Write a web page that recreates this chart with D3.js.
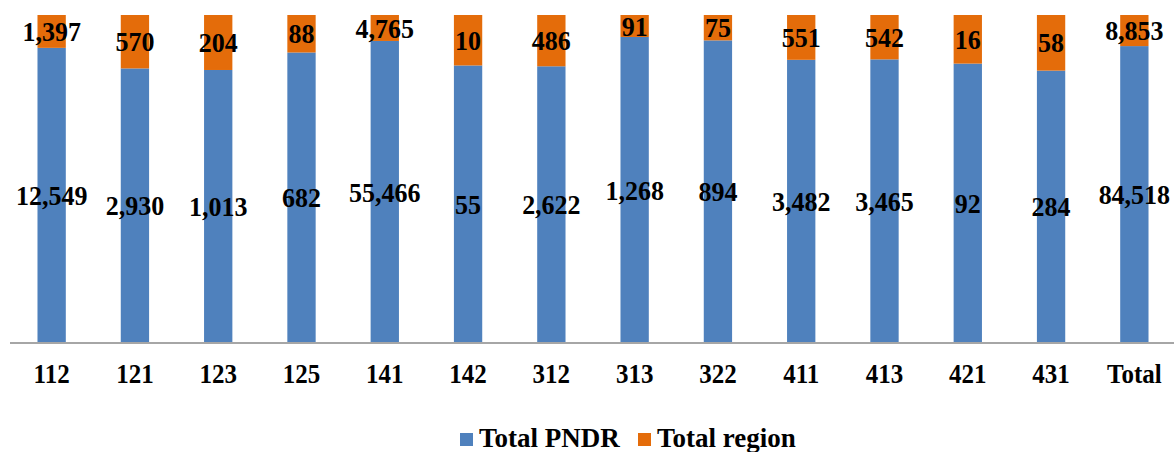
<!DOCTYPE html>
<html><head><meta charset="utf-8">
<script src="https://cdn.jsdelivr.net/npm/d3@7"></script>
<style>body{margin:0;background:#fff}svg{display:block}</style>
</head><body><svg id="c" width="1174" height="452"></svg>
<script>
const categories = ["112","121","123","125","141","142","312","313","322","411","413","421","431","Total"];
const pndr = [12549,2930,1013,682,55466,55,2622,1268,894,3482,3465,92,284,84518];
const region = [1397,570,204,88,4765,10,486,91,75,551,542,16,58,8853];
const seriesNames = ["Total PNDR","Total region"];
const colors = ["#4F81BD","#E46C0A"];

const svg = d3.select("#c");
const font = "Liberation Serif";
const x = d3.scaleBand().domain(categories).range([10,1176]).paddingInner(0.66).paddingOuter(0.33);
const y = d3.scaleLinear().domain([0,1]).range([343,15]);

const rows = categories.map((c,i)=>({cat:c, PNDR:pndr[i]/(pndr[i]+region[i]), region:region[i]/(pndr[i]+region[i]), vals:[pndr[i],region[i]]}));
const stack = d3.stack().keys(["PNDR","region"])(rows);

stack.forEach((s,si)=>{
  svg.append("g").selectAll("rect").data(s).join("rect")
    .attr("x",d=>x(d.data.cat)).attr("width",x.bandwidth())
    .attr("y",d=>y(d[1])).attr("height",d=>y(d[0])-y(d[1]))
    .attr("fill",colors[si]);
});

const fmt = d3.format(",");
stack.forEach((s,si)=>{
  svg.append("g").selectAll("text").data(s).join("text")
    .attr("transform",d=>`translate(${x(d.data.cat)+x.bandwidth()/2},${(y(d[0])+y(d[1]))/2}) scale(1,1.08)`)
    .attr("dy","0.34em")
    .attr("text-anchor","middle")
    .attr("font-family",font).attr("font-weight","bold").attr("font-size",26)
    .attr("fill","#000")
    .text(d=>fmt(d.data.vals[si]));
});

const ax = svg.append("g").attr("transform","translate(0,343)")
  .call(d3.axisBottom(x).tickSize(0).tickPadding(0));
ax.select(".domain").attr("stroke","#A6A6A6").attr("stroke-width",2).attr("d","M10,0H1174");
ax.selectAll(".tick text").attr("y",0).attr("dy",0)
  .attr("transform","translate(0,40) scale(1,1.08)")
  .attr("font-family",font).attr("font-weight","bold").attr("font-size",25).attr("fill","#000");

const leg = svg.append("g");
const legX = [460,638];
seriesNames.forEach((n,i)=>{
  leg.append("rect").attr("x",legX[i]).attr("y",433).attr("width",13).attr("height",13).attr("fill",colors[i]);
  leg.append("text").attr("x",legX[i]+19).attr("y",447)
    .attr("font-family",font).attr("font-weight","bold").attr("font-size",27).attr("fill","#000").text(n);
});
</script></body></html>
